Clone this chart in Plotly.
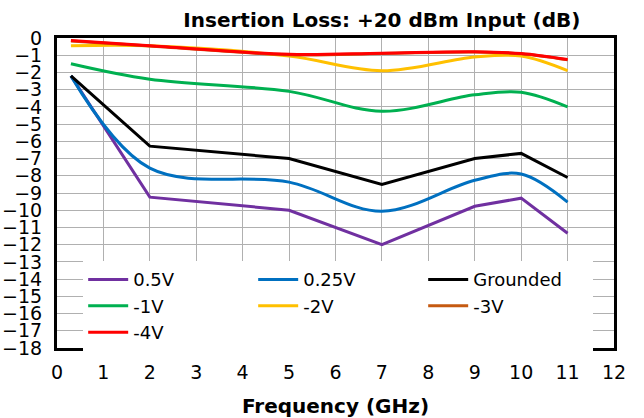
import plotly.graph_objects as go

freq = [0.3, 2, 5, 7, 9, 10, 11]
v05 = [-2.2, -9.24, -10.0, -12.0, -9.77, -9.3, -11.34]
v025 = [-2.2, -7.56, -8.37, -10.06, -8.26, -7.9, -9.53]
vgnd = [-2.2, -6.28, -7.0, -8.5, -7.0, -6.7, -8.1]
vm1 = [-1.5, -2.4, -3.1, -4.25, -3.3, -3.15, -4.0]
vm2 = [-0.45, -0.45, -1.05, -1.9, -1.1, -1.05, -1.9]
vm3 = [-0.17, -0.47, -0.97, -0.9, -0.82, -0.92, -1.27]
vm4 = [-0.15, -0.45, -0.95, -0.88, -0.8, -0.9, -1.25]

series = [
    ("0.5V", v05, "#7030A0", "linear"),
    ("0.25V", v025, "#0070C0", "spline"),
    ("Grounded", vgnd, "#000000", "linear"),
    ("-1V", vm1, "#00B050", "spline"),
    ("-2V", vm2, "#FFC000", "spline"),
    ("-3V", vm3, "#C55A11", "spline"),
    ("-4V", vm4, "#FF0000", "spline"),
]

fig = go.Figure()
for name, vals, color, shape in series:
    fig.add_trace(go.Scatter(x=freq, y=vals, name=name, mode="lines",
                             line=dict(color=color, width=3, shape=shape)))

font = "DejaVu Sans"
fig.update_layout(
    width=644, height=418,
    margin=dict(l=57, r=30, t=38, b=70),
    paper_bgcolor="white", plot_bgcolor="white",
    font=dict(family=font, color="black"),
    title=dict(text="<b>Insertion Loss: +20 dBm Input (dB)</b>", x=0.593, xanchor="center",
               y=0.952, yanchor="middle", font=dict(size=20, family=font)),
    xaxis=dict(range=[0, 12], dtick=1, tick0=0, showgrid=True, gridcolor="#b0b0b0", gridwidth=1,
               showline=True, linecolor="black", linewidth=3, mirror=True, automargin=False,
               tickfont=dict(size=19), ticks="", ticklabelstandoff=5, zeroline=False,
               title=dict(text="<b>Frequency (GHz)</b>", font=dict(size=20), standoff=21)),
    yaxis=dict(range=[-18, 0], dtick=1, tick0=0, showgrid=True, gridcolor="#b0b0b0", gridwidth=1,
               showline=True, linecolor="black", linewidth=3, mirror=True, automargin=False,
               tickfont=dict(size=19), ticks="", ticklabelstandoff=8, zeroline=False),
    legend=dict(orientation="h", x=0.047, y=0.28, xanchor="left", yanchor="top",
                entrywidth=115, entrywidthmode="pixels", bgcolor="white",
                font=dict(size=18), tracegroupgap=0, itemwidth=40),
)
fig.write_html("out.html")
